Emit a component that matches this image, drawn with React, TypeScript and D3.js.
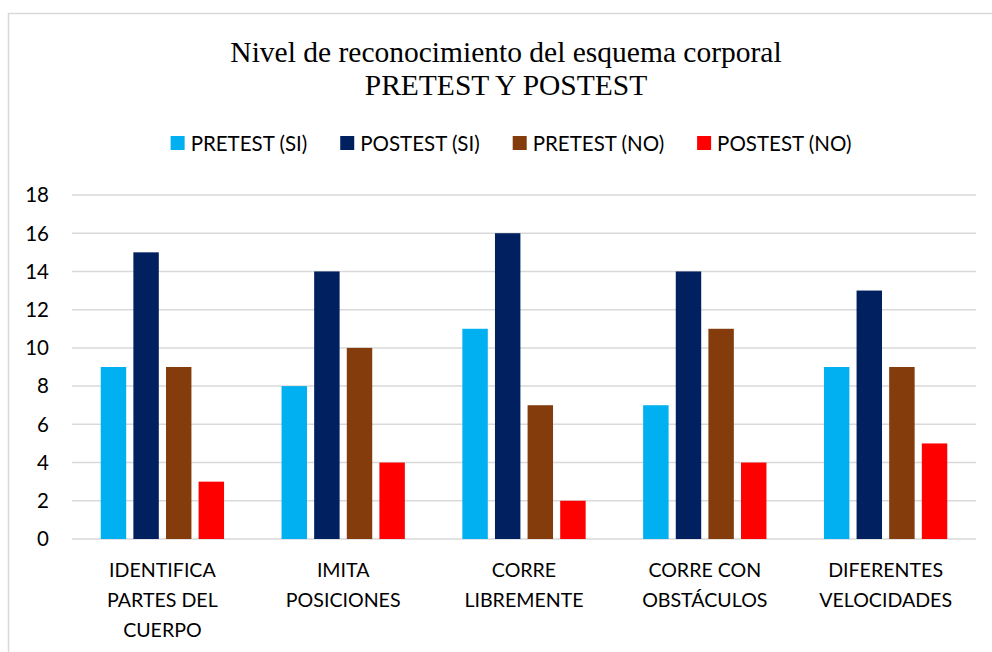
import React, { useEffect, useRef } from "react";
import * as d3 from "d3";

const categories = [
  "IDENTIFICA PARTES DEL CUERPO",
  "IMITA POSICIONES",
  "CORRE LIBREMENTE",
  "CORRE CON OBSTÁCULOS",
  "DIFERENTES VELOCIDADES",
];
const categoryLines = [
  ["IDENTIFICA", "PARTES DEL", "CUERPO"],
  ["IMITA", "POSICIONES"],
  ["CORRE", "LIBREMENTE"],
  ["CORRE CON", "OBSTÁCULOS"],
  ["DIFERENTES", "VELOCIDADES"],
];
const seriesNames = ["PRETEST (SI)", "POSTEST (SI)", "PRETEST (NO)", "POSTEST (NO)"];
const seriesColors = ["#00B0F0", "#002060", "#843C0C", "#FF0000"];
const pretestSi = [9, 8, 11, 7, 9];
const postestSi = [15, 14, 16, 14, 13];
const pretestNo = [9, 10, 7, 11, 9];
const postestNo = [3, 4, 2, 4, 5];
const yTicks = [0, 2, 4, 6, 8, 10, 12, 14, 16, 18];
const titleLines = ["Nivel de reconocimiento del esquema corporal", "PRETEST Y POSTEST"];

const W = 992;
const H = 652;
const SANS = "Lato, 'Open Sans', sans-serif";

export default function App() {
  const ref = useRef<SVGSVGElement | null>(null);

  useEffect(() => {
    const svg = d3.select(ref.current!);
    svg.selectAll("*").remove();
    const values = [pretestSi, postestSi, pretestNo, postestNo];

    const left = 72, right = 976, top = 195, bottom = 539;

    // outer border
    svg.append("rect")
      .attr("x", 8.5).attr("y", 13.5)
      .attr("width", 1100).attr("height", 800)
      .attr("fill", "#fff").attr("stroke", "#d9d9d9").attr("stroke-width", 1.5);

    // title
    const title = svg.append("text")
      .attr("text-anchor", "middle")
      .attr("font-family", "'Liberation Serif', 'Times New Roman', serif")
      .attr("font-size", 29.5).attr("fill", "#000");
    titleLines.forEach((t, i) => {
      title.append("tspan").attr("x", 506).attr("y", 62 + i * 33).text(t);
    });

    const y = d3.scaleLinear().domain([0, 18]).range([bottom, top]);
    const x0 = d3.scaleBand<string>().domain(categories).range([left, right]).paddingInner(0).paddingOuter(0);
    const groupPad = 28.75;
    const x1 = d3.scaleBand<string>().domain(seriesNames)
      .range([groupPad, x0.bandwidth() - groupPad]).paddingInner(0.22).paddingOuter(0);

    // gridlines
    svg.append("g").selectAll("line").data(yTicks).join("line")
      .attr("x1", left).attr("x2", right)
      .attr("y1", (d) => y(d)).attr("y2", (d) => y(d))
      .attr("stroke", "#d9d9d9").attr("stroke-width", 1.5);

    // y tick labels
    svg.append("g").selectAll("text").data(yTicks).join("text")
      .attr("x", 49).attr("y", (d) => y(d)).attr("dy", "0.36em")
      .attr("text-anchor", "end")
      .attr("font-family", SANS).attr("font-size", 20.5).attr("fill", "#000")
      .text((d) => String(d));

    // bars
    const groups = svg.append("g").selectAll("g").data(categories).join("g")
      .attr("transform", (c) => `translate(${x0(c)},0)`);
    groups.selectAll("rect")
      .data((c) => seriesNames.map((s, si) => ({ s, si, v: values[si][categories.indexOf(c)] })))
      .join("rect")
      .attr("x", (d) => x1(d.s)!)
      .attr("width", x1.bandwidth())
      .attr("y", (d) => y(d.v))
      .attr("height", (d) => y(0) - y(d.v))
      .attr("fill", (d) => seriesColors[d.si]);

    // category labels
    categories.forEach((c, ci) => {
      const cx = x0(c)! + x0.bandwidth() / 2;
      const t = svg.append("text").attr("text-anchor", "middle")
        .attr("font-family", SANS).attr("font-size", 19.6).attr("fill", "#000");
      categoryLines[ci].forEach((line, li) => {
        t.append("tspan").attr("x", cx).attr("y", 577 + li * 30).text(line);
      });
    });

    // legend
    const legend = svg.append("g");
    const items = legend.selectAll("g").data(seriesNames).join("g");
    items.append("rect").attr("width", 14).attr("height", 14).attr("y", 136)
      .attr("fill", (d, i) => seriesColors[i]);
    const texts = items.append("text").attr("x", 20).attr("y", 150.5)
      .attr("font-family", SANS).attr("font-size", 20.5).attr("fill", "#000")
      .text((d) => d);
    const widths: number[] = [];
    texts.each(function () { widths.push((this as SVGTextElement).getComputedTextLength()); });
    const gap = 33;
    const total = widths.reduce((a, w) => a + 20 + w, 0) + gap * (widths.length - 1);
    let cur = 511 - total / 2;
    items.attr("transform", (d, i) => {
      const tx = cur;
      cur += 20 + widths[i] + gap;
      return `translate(${tx},0)`;
    });
  }, []);

  return (
    <svg ref={ref} width={W} height={H} style={{ display: "block", position: "absolute", left: 0, top: 0 }} />
  );
}
